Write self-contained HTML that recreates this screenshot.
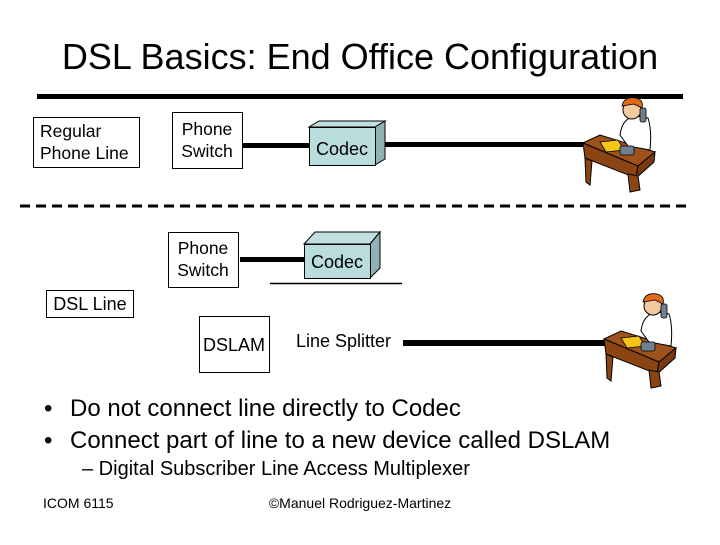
<!DOCTYPE html>
<html><head><meta charset="utf-8"><style>
body{margin:0;background:#fff;}
svg text{font-family:"Liberation Sans",Arial,sans-serif;}
</style></head><body>
<svg width="720" height="540" xmlns="http://www.w3.org/2000/svg">
<defs>
<g id="person">
 <polygon points="583,143 600,135 655,152 638,166" fill="#a0521d" stroke="#000" stroke-width="1"/>
 <polygon points="583,143 638,166 636,178 585,158" fill="#8b4513" stroke="#000" stroke-width="1"/>
 <polygon points="638,166 655,152 654,162 636,178" fill="#7a3a10" stroke="#000" stroke-width="1"/>
 <polygon points="585,158 592,161 590,185 586,182" fill="#8b4513" stroke="#000" stroke-width="1"/>
 <polygon points="628,174 638,176 640,190 630,192" fill="#8b4513" stroke="#000" stroke-width="1"/>
 <polygon points="600,142 618,140 624,150 606,152" fill="#f5c518" stroke="#000" stroke-width="0.8"/>
 <path d="M620,135 Q622,118 636,116 L648,118 Q652,130 650,150 L628,146 Z" fill="#fff" stroke="#000" stroke-width="1"/>
 <circle cx="632" cy="110" r="9" fill="#f3c9a0" stroke="#000" stroke-width="1"/>
 <path d="M622,106 Q624,96 636,98 Q644,100 642,108 L634,104 Z" fill="#e06a1a" stroke="#000" stroke-width="0.8"/>
 <rect x="640" y="108" width="6" height="14" rx="2" fill="#708090" stroke="#000" stroke-width="0.8"/>
 <rect x="620" y="146" width="14" height="9" rx="2" fill="#708090" stroke="#000" stroke-width="0.8"/>
</g>
</defs>
<text x="360" y="69" font-size="36" text-anchor="middle">DSL Basics: End Office Configuration</text>
<rect x="37" y="94" width="646" height="5" fill="#000"/>

<rect x="33.5" y="117.5" width="106" height="50" fill="#fff" stroke="#000"/>
<text x="40" y="137" font-size="17.5">Regular</text>
<text x="40" y="159" font-size="17.5">Phone Line</text>

<rect x="172.5" y="112.5" width="70" height="56" fill="#fff" stroke="#000"/>
<text x="207" y="135" font-size="17.5" text-anchor="middle">Phone</text>
<text x="207" y="157" font-size="17.5" text-anchor="middle">Switch</text>
<rect x="243" y="143" width="66" height="5" fill="#000"/>
<polygon points="309,127 319,121 385,121 375,127" fill="#c2dfe0" stroke="#000"/>
<polygon points="375,127 385,121 385,159 375,165" fill="#8fb3b5" stroke="#000"/>
<rect x="309.5" y="127.5" width="66" height="38" fill="#b9dcdd" stroke="#000"/>
<text x="342" y="155" font-size="18" text-anchor="middle">Codec</text>
<rect x="385" y="142" width="210" height="5" fill="#000"/>
<use href="#person"/>

<line x1="20" y1="206" x2="686" y2="206" stroke="#000" stroke-width="3" stroke-dasharray="10,6"/>

<rect x="168.5" y="232.5" width="70" height="55" fill="#fff" stroke="#000"/>
<text x="203" y="254" font-size="17.5" text-anchor="middle">Phone</text>
<text x="203" y="276" font-size="17.5" text-anchor="middle">Switch</text>
<rect x="240" y="257" width="64" height="5" fill="#000"/>
<polygon points="304,244 315,232 380,232 370,244" fill="#c2dfe0" stroke="#000"/>
<polygon points="370,244 380,232 380,268 370,278" fill="#8fb3b5" stroke="#000"/>
<rect x="304.5" y="244.5" width="66" height="34" fill="#b9dcdd" stroke="#000"/>
<text x="337" y="268" font-size="18" text-anchor="middle">Codec</text>
<line x1="270" y1="283.5" x2="402" y2="283.5" stroke="#000" stroke-width="1.5"/>

<rect x="46.5" y="290.5" width="87" height="27" fill="#fff" stroke="#000"/>
<text x="90" y="310" font-size="18" text-anchor="middle">DSL Line</text>

<rect x="199.5" y="316.5" width="70" height="56" fill="#fff" stroke="#000"/>
<text x="234" y="351" font-size="18" text-anchor="middle">DSLAM</text>
<text x="296" y="347" font-size="18">Line Splitter</text>
<rect x="403" y="340" width="205" height="6" fill="#000"/>
<use href="#person" transform="translate(21,196)"/>

<text x="44" y="416" font-size="24">•</text>
<text x="70" y="416" font-size="24">Do not connect line directly to Codec</text>
<text x="44" y="448" font-size="24">•</text>
<text x="70" y="448" font-size="24">Connect part of line to a new device called DSLAM</text>
<text x="82" y="475" font-size="20">– Digital Subscriber Line Access Multiplexer</text>

<text x="43" y="508" font-size="14">ICOM 6115</text>
<text x="360" y="508" font-size="14" text-anchor="middle">©Manuel Rodriguez-Martinez</text>
</svg>
</body></html>
